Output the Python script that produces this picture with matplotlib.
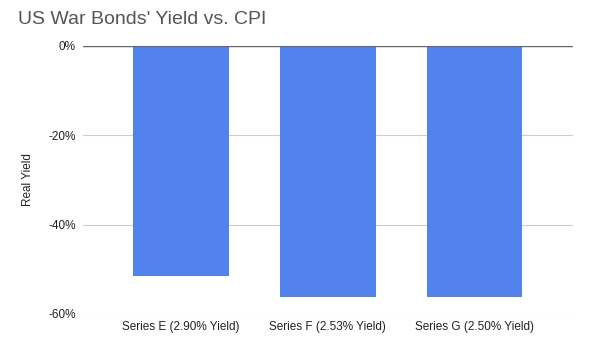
import matplotlib.pyplot as plt
from matplotlib.ticker import FuncFormatter

plt.rcParams['font.family'] = ['Liberation Sans', 'DejaVu Sans']

# data
categories = ['Series E (2.90% Yield)', 'Series F (2.53% Yield)', 'Series G (2.50% Yield)']
real_yield = [-51.6, -56.2, -56.2]
y_ticks = [0, -20, -40, -60]

fig = plt.figure(figsize=(6, 3.5), dpi=100)
ax = fig.add_axes([0.138, 0.103, 0.817, 0.766])

ax.bar(range(len(categories)), real_yield, width=0.65, color='#5283ec', zorder=3)

ax.set_ylim(-60, 0)
ax.set_xlim(-0.67, len(categories) - 1 + 0.67)
ax.set_yticks(y_ticks)
ax.yaxis.set_major_formatter(FuncFormatter(lambda v, p: f'{v:.0f}%'))
ax.set_xticks(range(len(categories)))
ax.set_xticklabels(categories)
ax.tick_params(axis='both', length=0, labelsize=8.5, colors='#222222')
ax.tick_params(axis='y', pad=5)
ax.tick_params(axis='x', pad=5)

ax.grid(axis='y', color='#cccccc', linewidth=0.8, zorder=0)
ax.axhline(0, color='#666666', linewidth=1.0, zorder=4)
for s in ax.spines.values():
    s.set_visible(False)

ax.set_ylabel('Real Yield', fontsize=8.5, color='#222222', labelpad=10)
fig.text(0.03, 0.931, "US War Bonds' Yield vs. CPI", fontsize=14, color='#555555')

fig.savefig('out.png', dpi=100)
